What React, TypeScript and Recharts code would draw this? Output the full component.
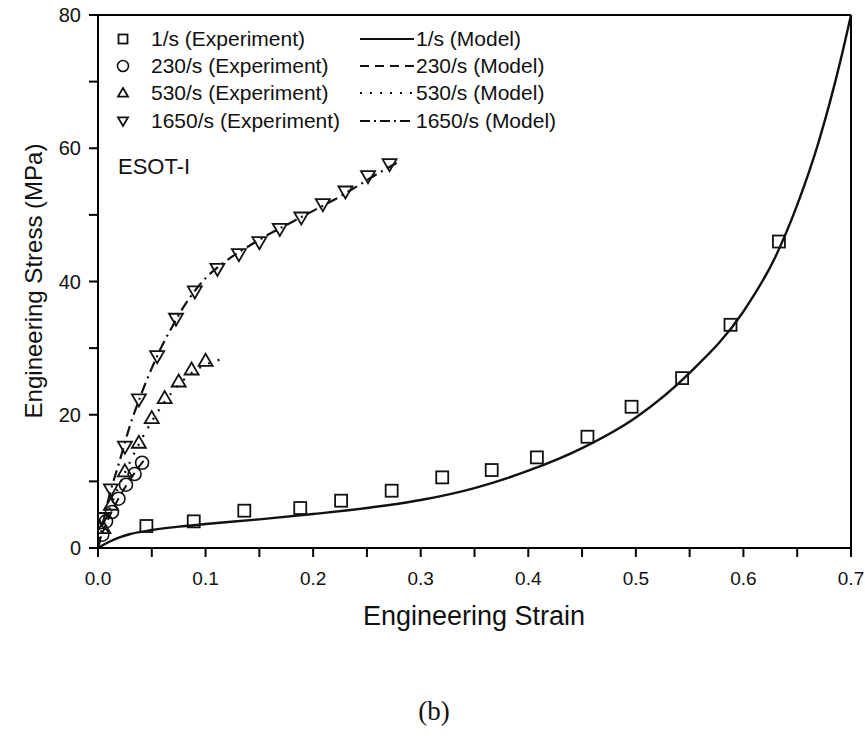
import {
  ComposedChart,
  Line,
  Scatter,
  XAxis,
  YAxis,
  ReferenceLine,
  Legend,
} from 'recharts';

// experiment points, 1/s
const exp1Strain = [0.045, 0.089, 0.136, 0.188, 0.226, 0.273, 0.32, 0.366, 0.408, 0.455, 0.496, 0.543, 0.588, 0.633];
const exp1Stress = [3.3, 4.0, 5.6, 6.0, 7.1, 8.6, 10.6, 11.7, 13.6, 16.7, 21.2, 25.5, 33.5, 46.0];

// 230/s
const exp230Strain = [0.004, 0.0075, 0.013, 0.019, 0.026, 0.034, 0.041];
const exp230Stress = [2.0, 4.0, 5.4, 7.4, 9.5, 11.1, 12.8];

// 530/s
const exp530Strain = [0.005, 0.012, 0.025, 0.038, 0.05, 0.062, 0.075, 0.087, 0.1];
const exp530Stress = [3.0, 6.5, 11.5, 15.8, 19.5, 22.5, 25.0, 26.8, 28.1];

// 1650/s
const exp1650Strain = [0.004, 0.012, 0.025, 0.038, 0.055, 0.0725, 0.09, 0.111, 0.131, 0.15, 0.169, 0.189, 0.209, 0.23, 0.251, 0.271];
const exp1650Stress = [4.5, 8.8, 15.2, 22.3, 28.8, 34.4, 38.5, 41.9, 44.1, 45.9, 47.9, 49.6, 51.6, 53.5, 55.8, 57.6];

// model curves
const mod1Strain = [0, 0.01, 0.02, 0.03, 0.05, 0.075, 0.1, 0.15, 0.2, 0.25, 0.3, 0.35, 0.4, 0.45, 0.5, 0.55, 0.6, 0.63, 0.65, 0.67, 0.69, 0.7];
const mod1Stress = [0, 0.9, 1.6, 2.1, 2.7, 3.2, 3.6, 4.3, 5.1, 6.0, 7.2, 9.0, 11.6, 15.0, 19.6, 26.3, 35.5, 43.8, 51.5, 61.0, 73.0, 80.0];

const mod230Strain = [0, 0.005, 0.01, 0.02, 0.03, 0.04, 0.043];
const mod230Stress = [0, 2.6, 4.5, 7.7, 10.3, 12.6, 13.2];

const mod530Strain = [0, 0.005, 0.01, 0.02, 0.03, 0.04, 0.05, 0.06, 0.07, 0.08, 0.09, 0.1, 0.11, 0.117];
const mod530Stress = [0, 3.0, 5.5, 9.5, 13.0, 16.2, 19.0, 21.5, 23.6, 25.3, 26.6, 27.5, 28.1, 28.4];

const mod1650Strain = [0, 0.005, 0.01, 0.02, 0.03, 0.04, 0.05, 0.06, 0.07, 0.08, 0.09, 0.1, 0.12, 0.14, 0.16, 0.18, 0.2, 0.22, 0.24, 0.26, 0.28];
const mod1650Stress = [0, 4.0, 7.5, 13.0, 18.5, 23.0, 27.0, 30.5, 33.5, 36.3, 38.6, 40.5, 43.2, 45.3, 47.2, 48.9, 50.6, 52.3, 54.2, 56.2, 58.0];

const xTicks = [0, 0.05, 0.1, 0.15, 0.2, 0.25, 0.3, 0.35, 0.4, 0.45, 0.5, 0.55, 0.6, 0.65, 0.7];
const yTicks = [0, 10, 20, 30, 40, 50, 60, 70, 80];

const FONT = '"Liberation Sans", Arial, sans-serif';
const INK = '#111';

const zip = (xs: number[], ys: number[]) => xs.map((x, i) => ({ x, y: ys[i] }));

function Square({ cx, cy, s = 6 }: any) {
  return <rect x={cx - s} y={cy - s} width={2 * s} height={2 * s} fill="none" stroke={INK} strokeWidth={1.8} />;
}
function Circle({ cx, cy, s = 6 }: any) {
  return <circle cx={cx} cy={cy} r={s + 0.5} fill="none" stroke={INK} strokeWidth={1.6} />;
}
function TriUp({ cx, cy, s = 7 }: any) {
  return <path d={`M${cx},${cy - s} L${cx + s},${cy + s * 0.72} L${cx - s},${cy + s * 0.72} Z`} fill="none" stroke={INK} strokeWidth={1.8} />;
}
function TriDown({ cx, cy, s = 7 }: any) {
  return <path d={`M${cx - s},${cy - s * 0.72} L${cx + s},${cy - s * 0.72} L${cx},${cy + s} Z`} fill="none" stroke={INK} strokeWidth={1.8} />;
}

const isMajor = (v: number, step: number) => Math.abs(v / step - Math.round(v / step)) < 1e-6;

// tick labels only on the major ticks
function XTick({ x, y, payload }: any) {
  if (!isMajor(payload.value, 0.1)) return <g />;
  return (
    <text x={x} y={y + 28} textAnchor="middle" fontFamily={FONT} fontSize={19} fill={INK}>
      {payload.value.toFixed(1)}
    </text>
  );
}

function YTick({ x, y, payload }: any) {
  if (!isMajor(payload.value, 20)) return <g />;
  return (
    <text x={x - 8} y={y + 7} textAnchor="end" fontFamily={FONT} fontSize={20} fill={INK}>
      {payload.value}
    </text>
  );
}

const expItems = [
  { label: '1/s (Experiment)', Shape: Square },
  { label: '230/s (Experiment)', Shape: Circle },
  { label: '530/s (Experiment)', Shape: TriUp },
  { label: '1650/s (Experiment)', Shape: TriDown },
];
const modelItems = [
  { label: '1/s (Model)', dash: undefined },
  { label: '230/s (Model)', dash: '9 6' },
  { label: '530/s (Model)', dash: '2 8' },
  { label: '1650/s (Model)', dash: '10 4 2 4' },
];

function LegendBox() {
  const rowY = [39, 66, 93, 121];
  return (
    <svg width={480} height={140} style={{ display: 'block' }}>
      {expItems.map((it, i) => (
        <g key={it.label}>
          <it.Shape cx={25} cy={rowY[i]} s={it.Shape === Square ? 4.5 : 5} />
          <text x={53} y={rowY[i] + 7} fontFamily={FONT} fontSize={21} fill={INK}>{it.label}</text>
        </g>
      ))}
      {modelItems.map((it, i) => (
        <g key={it.label}>
          <line x1={262} x2={316} y1={rowY[i]} y2={rowY[i]} stroke={INK} strokeWidth={2} strokeDasharray={it.dash} />
          <text x={318} y={rowY[i] + 7} fontFamily={FONT} fontSize={21} fill={INK}>{it.label}</text>
        </g>
      ))}
    </svg>
  );
}

export default function App() {
  return (
    <div style={{ position: 'absolute', left: 0, top: 0, width: 865, height: 742, background: '#fff' }}>
      <ComposedChart
        width={865}
        height={742}
        margin={{ top: 15, right: 14, left: 38, bottom: 134 }}
      >
        <XAxis
          dataKey="x"
          type="number"
          domain={[0, 0.7]}
          ticks={xTicks}
          interval={0}
          allowDataOverflow
          height={60}
          axisLine={{ stroke: '#000', strokeWidth: 2 }}
          tickLine={{ stroke: '#000', strokeWidth: 2 }}
          tickSize={9}
          tickMargin={0}
          tick={<XTick />}
          label={{
            content: () => (
              <text x={474} y={625} textAnchor="middle" fontFamily={FONT} fontSize={27} fill={INK}>
                Engineering Strain
              </text>
            ),
          }}
        />
        <YAxis
          type="number"
          domain={[0, 80]}
          ticks={yTicks}
          interval={0}
          allowDataOverflow
          width={60}
          axisLine={{ stroke: '#000', strokeWidth: 2 }}
          tickLine={{ stroke: '#000', strokeWidth: 2 }}
          tickSize={9}
          tickMargin={0}
          tick={<YTick />}
          label={{
            content: () => (
              <text
                x={33}
                y={281}
                textAnchor="middle"
                transform="rotate(-90 33 281)"
                dy={9}
                fontFamily={FONT}
                fontSize={24}
                fill={INK}
              >
                Engineering Stress (MPa)
              </text>
            ),
          }}
        />
        <ReferenceLine y={80} stroke="#000" strokeWidth={2} />
        <ReferenceLine x={0.7} stroke="#000" strokeWidth={2} />
        <Legend
          layout="horizontal"
          verticalAlign="middle"
          align="center"
          wrapperStyle={{ position: 'absolute', left: 98, top: 0, width: 480, height: 140 }}
          content={() => <LegendBox />}
        />

        <Line data={zip(mod1Strain, mod1Stress)} dataKey="y" type="monotone" stroke={INK} strokeWidth={2.4} dot={false} isAnimationActive={false} />
        <Line data={zip(mod230Strain, mod230Stress)} dataKey="y" type="monotone" stroke={INK} strokeWidth={2} strokeDasharray="9 6" dot={false} isAnimationActive={false} />
        <Line data={zip(mod530Strain, mod530Stress)} dataKey="y" type="monotone" stroke={INK} strokeWidth={2.2} strokeDasharray="2 8" dot={false} isAnimationActive={false} />
        <Line data={zip(mod1650Strain, mod1650Stress)} dataKey="y" type="monotone" stroke={INK} strokeWidth={2.2} strokeDasharray="11 5 2 5" dot={false} isAnimationActive={false} />

        <Scatter data={zip(exp1Strain, exp1Stress)} dataKey="y" shape={<Square />} isAnimationActive={false} />
        <Scatter data={zip(exp230Strain, exp230Stress)} dataKey="y" shape={<Circle />} isAnimationActive={false} />
        <Scatter data={zip(exp530Strain, exp530Stress)} dataKey="y" shape={<TriUp />} isAnimationActive={false} />
        <Scatter data={zip(exp1650Strain, exp1650Stress)} dataKey="y" shape={<TriDown />} isAnimationActive={false} />
      </ComposedChart>
      <div style={{ position: 'absolute', left: 118, top: 154, fontFamily: FONT, fontSize: 22, lineHeight: '25px', color: INK }}>ESOT-I</div>
      <div style={{ position: 'absolute', left: 0, top: 695, width: 868, textAlign: 'center', fontFamily: '"Liberation Serif", "Times New Roman", serif', fontSize: 27, lineHeight: '32px', color: INK }}>
        (b)
      </div>
    </div>
  );
}
